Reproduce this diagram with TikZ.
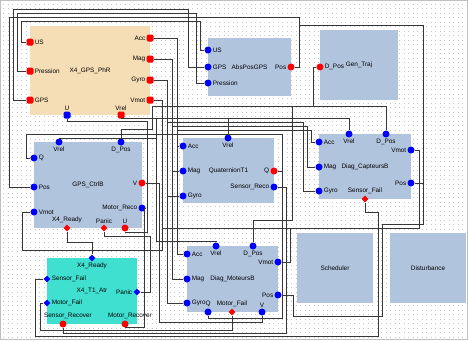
\documentclass[tikz,border=0pt]{standalone}
\usepackage{fontspec}
\setmainfont{Liberation Sans}
\usepackage{xcolor}
\usepackage{tikz}
\usetikzlibrary{shapes.geometric, calc}
\definecolor{steel}{RGB}{176,196,222}
\definecolor{wheat}{RGB}{245,222,182}
\definecolor{turq}{RGB}{64,224,208}
\definecolor{pred}{RGB}{255,0,0}
\definecolor{pblue}{RGB}{0,0,255}
\definecolor{wiregray}{RGB}{55,55,55}

\begin{document}
\begin{tikzpicture}[
    x=1pt, y=-1pt,
    font=\fontsize{6.4}{7}\selectfont,
    block/.style={rectangle, fill=#1, inner sep=0pt},
    port/.style={circle, fill=#1, minimum size=7pt, inner sep=0pt},
    sqport/.style={rectangle, rounded corners=1.5pt, fill=#1, minimum size=7pt, inner sep=0pt},
    dport/.style={diamond, fill=#1, minimum size=7pt, inner sep=0pt},
    every label/.style={inner sep=0.6pt},
    label distance=0.3pt,
    wire/.style={draw=wiregray, line width=0.55pt},
]
    \useasboundingbox (0,0) rectangle (468,340);

    % Dotted grid
    \foreach \y in {4,8.5,...,338}
        \draw[gray!45, line width=0.7pt, dash pattern=on 0.7pt off 3.8pt] (3,\y) -- (466,\y);
    \draw[gray!50] (0.5,0.5) rectangle (467.5,339.5);

    % Blocks
    \node[block=wheat, minimum width=120, minimum height=89] (phr) at (90,70.5) {X4\_GPS\_PhR};
    \node[block=steel, minimum width=83, minimum height=58] (abs) at (249.5,67) {AbsPosGPS};
    \node[block=steel, minimum width=78, minimum height=70] (gen) at (359,65) {Gen\_Traj};
    \node[block=steel, minimum width=108, minimum height=86] (ctl) at (88,185) {GPS\_CtrlB};
    \node[block=steel, minimum width=91, minimum height=65] (qua) at (228.5,170.5) {QuaternionT1};
    \node[block=steel, minimum width=92, minimum height=65] (dcb) at (365,166.5) {Diag\_CapteursB};
    \node[block=turq, minimum width=90, minimum height=66] (atr) at (92,291) {X4\_T1\_Atr};
    \node[block=steel, minimum width=91, minimum height=66] (dmb) at (232.5,279) {Diag\_MoteursB};
    \node[block=steel, minimum width=76, minimum height=70] (sch) at (335,268) {Scheduler};
    \node[block=steel, minimum width=76, minimum height=70] (dis) at (428,268) {Disturbance};

    % Ports of X4_GPS_PhR
    \node[sqport=pred, label={right:US}] (phrUS) at (30,42) {};
    \node[sqport=pred, label={right:Pression}] (phrPres) at (30,71) {};
    \node[sqport=pred, label={right:GPS}] (phrGPS) at (30,100) {};
    \node[sqport=pred, label={left:Acc}] (phrAcc) at (150,38) {};
    \node[sqport=pred, label={left:Mag}] (phrMag) at (150,59) {};
    \node[sqport=pred, label={left:Gyro}] (phrGyro) at (150,80) {};
    \node[sqport=pred, label={left:Vmot}] (phrVmot) at (150,100) {};
    \node[sqport=pblue, label={above:U}] (phrU) at (67,115) {};
    \node[sqport=pred, label={above:Vrel}] (phrVrel) at (121,115) {};

    % Ports of AbsPosGPS and Gen_Traj
    \node[port=pblue, label={right:US}] (absUS) at (208,50) {};
    \node[port=pblue, label={right:GPS}] (absGPS) at (208,67) {};
    \node[port=pblue, label={right:Pression}] (absPres) at (208,83) {};
    \node[port=pred, label={left:Pos}] (absPos) at (291,67) {};
    \node[port=pred, label={right:D\_Pos}] (genDPos) at (320,67) {};

    % Ports of GPS_CtrlB
    \node[port=pblue, label={below:Vrel}] (ctlVrel) at (59,142) {};
    \node[port=pblue, label={below:D\_Pos}] (ctlDPos) at (121,142) {};
    \node[port=pblue, label={right:Q}] (ctlQ) at (34,158) {};
    \node[port=pblue, label={right:Pos}] (ctlPos) at (34,187) {};
    \node[port=pblue, label={right:Vmot}] (ctlVmot) at (34,212) {};
    \node[port=pred, label={left:V}] (ctlV) at (142,183) {};
    \node[port=pblue, label={left:Motor\_Reco}] (ctlMR) at (142,208) {};
    \node[dport=pred, label={above:X4\_Ready}] (ctlRdy) at (67,228) {};
    \node[dport=pred, label={above:Panic}] (ctlPanic) at (104,228) {};
    \node[port=pred, label={above:U}] (ctlU) at (125,228) {};

    % Ports of QuaternionT1
    \node[port=pblue, label={below:Vrel}] (quaVrel) at (228,138) {};
    \node[port=pblue, label={right:Acc}] (quaAcc) at (183,146) {};
    \node[port=pblue, label={right:Mag}] (quaMag) at (183,171) {};
    \node[port=pblue, label={right:Gyro}] (quaGyro) at (183,196) {};
    \node[port=pred, label={left:Q}] (quaQ) at (274,171) {};
    \node[port=pblue, label={left:Sensor\_Reco}] (quaSR) at (274,187) {};

    % Ports of Diag_CapteursB
    \node[port=pblue, label={below:Vrel}] (dcbVrel) at (349,134) {};
    \node[port=pblue, label={below:D\_Pos}] (dcbDPos) at (386,134) {};
    \node[port=pblue, label={right:Acc}] (dcbAcc) at (319,142) {};
    \node[port=pblue, label={right:Mag}] (dcbMag) at (319,167) {};
    \node[port=pblue, label={right:Gyro}] (dcbGyro) at (319,191) {};
    \node[port=pblue, label={left:Vmot}] (dcbVmot) at (411,150) {};
    \node[port=pblue, label={left:Pos}] (dcbPos) at (411,183) {};
    \node[dport=pred, label={above:Sensor\_Fail}] (dcbSF) at (365,199) {};

    % Ports of X4_T1_Atr
    \node[dport=pblue, label={below:X4\_Ready}] (atrRdy) at (92,258) {};
    \node[dport=pblue, label={right:Sensor\_Fail}] (atrSF) at (47,279) {};
    \node[dport=pblue, label={right:Motor\_Fail}] (atrMF) at (47,303) {};
    \node[dport=pblue, label={left:Panic}] (atrPanic) at (137,292) {};
    \node[port=pred, label={[xshift=5pt]above:Sensor\_Recover}] (atrSR) at (63,324) {};
    \node[port=pred, label={[xshift=5pt]above:Motor\_Recover}] (atrMR) at (125,324) {};

    % Ports of Diag_MoteursB
    \node[port=pblue, label={below:Vrel}] (dmbVrel) at (216,246) {};
    \node[port=pblue, label={below:D\_Pos}] (dmbDPos) at (253,246) {};
    \node[port=pblue, label={right:Acc}] (dmbAcc) at (187,254) {};
    \node[port=pblue, label={right:Mag}] (dmbMag) at (187,279) {};
    \node[port=pblue, label={right:Gyro}] (dmbGyro) at (187,303) {};
    \node[port=pblue, label={left:Vmot}] (dmbVmot) at (278,262) {};
    \node[port=pblue, label={left:Pos}] (dmbPos) at (278,295) {};
    \node[port=pblue, label={above:Q}] (dmbQ) at (208,312) {};
    \node[dport=pred, label={above:Motor\_Fail}] (dmbMF) at (232,312) {};
    \node[port=pblue, label={above:V}] (dmbV) at (262,312) {};

    % Sensor inputs
    \draw[wire] (absUS) -| (200,21) -| (21,42) -- (phrUS);
    \draw[wire] (absPres) -| (196,13) -| (17,71) -- (phrPres);
    \draw[wire] (absGPS) -| (188,9) -| (13,100) -- (phrGPS);

    % Position from AbsPosGPS
    \draw[wire] (absPos) -| (299,17) -| (9,187) -- (ctlPos);
    \draw[wire] (absPos) -| (299,25) -| (423,183) -- (dcbPos);
    \draw[wire] (absPos) -| (299,25) -| (423,224) -| (382,316) -| (293,295) -- (dmbPos);

    % Acc, Mag, Gyro, Vmot
    \draw[wire] (phrAcc) -| (177,146) -- (quaAcc);
    \draw[wire] (phrAcc) -| (177,254) -- (dmbAcc);
    \draw[wire] (phrAcc) -| (177,130) -| (311,142) -- (dcbAcc);
    \draw[wire] (phrMag) -| (172,171) -- (quaMag);
    \draw[wire] (phrMag) -| (172,279) -- (dmbMag);
    \draw[wire] (phrMag) -| (172,126) -| (307,167) -- (dcbMag);
    \draw[wire] (phrGyro) -| (167,196) -- (quaGyro);
    \draw[wire] (phrGyro) -| (167,303) -- (dmbGyro);
    \draw[wire] (phrGyro) -| (167,122) -| (303,191) -- (dcbGyro);
    \draw[wire] (phrVmot) -| (162,250) -| (22,212) -- (ctlVmot);
    \draw[wire] (phrVmot) -| (162,228) -| (419,150) -- (dcbVmot);
    \draw[wire] (phrVmot) -| (162,228) -| (290,262) -- (dmbVmot);

    % Vrel
    \draw[wire] (phrVrel) |- (349,118) -- (dcbVrel);
    \draw[wire] (phrVrel) |- (228,118) -- (quaVrel);
    \draw[wire] (phrVrel) |- (156,118) |- (59,138) -- (ctlVrel);
    \draw[wire] (phrVrel) |- (156,118) |- (216,241) -- (dmbVrel);

    % D_Pos from Gen_Traj
    \draw[wire] (genDPos) -| (313,106) -| (dcbDPos);
    \draw[wire] (genDPos) -| (313,106) -| (152,129) -| (ctlDPos);
    \draw[wire] (genDPos) -| (313,106) -| (292,220) -| (dmbDPos);

    % Controller outputs
    \draw[wire] (ctlU) |- (147,232) |- (67,121) -- (phrU);
    \draw[wire] (quaQ) -| (282,134) -| (26,158) -- (ctlQ);
    \draw[wire] (quaQ) -| (282,318) -| (dmbQ);
    \draw[wire] (ctlV) -| (159,322) -| (dmbV);
    \draw[wire] (ctlRdy) |- (92,242) -- (atrRdy);
    \draw[wire] (ctlPanic) |- (150,236) |- (atrPanic);

    % Fault handling
    \draw[wire] (atrMR) |- (144,327) |- (ctlMR);
    \draw[wire] (atrSR) |- (286,333) |- (quaSR);
    \draw[wire] (dmbMF) |- (40,330) |- (atrMF);
    \draw[wire] (dcbSF) |- (378,212) |- (35,336) |- (atrSF);

\end{tikzpicture}
\end{document}
